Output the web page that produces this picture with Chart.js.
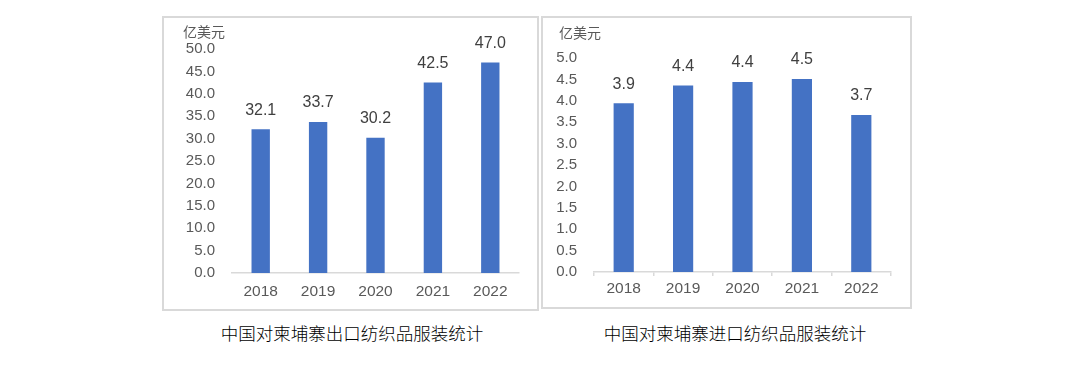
<!DOCTYPE html>
<html>
<head>
<meta charset="utf-8">
<script src="https://cdn.jsdelivr.net/npm/chart.js@4/dist/chart.umd.min.js"></script>
<style>
  html, body { margin: 0; padding: 0; background: #ffffff; }
  body { width: 1080px; height: 367px; position: relative; overflow: hidden;
         font-family: 'Liberation Sans', 'Noto Sans CJK SC', sans-serif; }
  .box { position: absolute; border: 2px solid #d9d9d9; box-sizing: border-box; }
  .wrap { position: absolute; }
  .title { position: absolute; font-family: 'Noto Sans CJK SC', sans-serif; font-size: 17.5px;
           font-weight: 300; color: #000; text-align: center; white-space: nowrap; line-height: 20px; }
</style>
</head>
<body>
<div class="box" style="left:162px; top:16px; width:377px; height:295px;"></div>
<div class="box" style="left:541px; top:16px; width:371px; height:293px;"></div>
<div class="wrap" style="left:165px; top:19px; width:370px; height:289px;"><canvas id="c1"></canvas></div>
<div class="wrap" style="left:544px; top:19px; width:365px; height:288px;"><canvas id="c2"></canvas></div>
<div class="title" style="left:202px; top:323px; width:300px;">中国对柬埔寨出口纺织品服装统计</div>
<div class="title" style="left:585px; top:323px; width:300px;">中国对柬埔寨进口纺织品服装统计</div>
<script>
const years = ['2018', '2019', '2020', '2021', '2022'];
const exportValues = [32.1, 33.7, 30.2, 42.5, 47.0];
const importValues = [3.94, 4.36, 4.44, 4.51, 3.67];
const unitLabel = '亿美元';
const exportTicks = { min: 0, max: 50, step: 5 };
const importTicks = { min: 0, max: 5, step: 0.5 };

const FONT = "'Liberation Sans', 'Noto Sans CJK SC', sans-serif";
const TXT = '#595959';
const BAR = '#4472C4';
const LINE = '#d9d9d9';

const valuePlugin = {
  id: 'valueLabels',
  afterDatasetsDraw(chart, args, opts) {
    const ctx = chart.ctx;
    const meta = chart.getDatasetMeta(0);
    const data = chart.data.datasets[0].data;
    ctx.save();
    ctx.font = '16px ' + FONT;
    ctx.fillStyle = '#404040';
    ctx.textAlign = 'center';
    ctx.textBaseline = 'middle';
    meta.data.forEach((bar, i) => {
      ctx.fillText(data[i].toFixed(1), bar.x, bar.y - 19);
    });
    ctx.font = '14px ' + FONT;
    ctx.fillStyle = TXT;
    ctx.textAlign = 'left';
    ctx.fillText(opts.unit, opts.ux, opts.uy);
    ctx.restore();
  }
};

function makeChart(id, values, t, cfg) {
  return new Chart(document.getElementById(id), {
    type: 'bar',
    data: {
      labels: years,
      datasets: [{
        data: values,
        backgroundColor: BAR,
        borderWidth: 0,
        barPercentage: cfg.barPct,
        categoryPercentage: 1
      }]
    },
    options: {
      responsive: true,
      maintainAspectRatio: false,
      animation: false,
      devicePixelRatio: 1,
      layout: { padding: { top: cfg.padTop, right: cfg.padRight, left: 0, bottom: 0 } },
      plugins: {
        legend: { display: false },
        tooltip: { enabled: false },
        valueLabels: { unit: unitLabel, ux: cfg.ux, uy: cfg.uy }
      },
      scales: {
        x: {
          afterFit(s) { s.height = cfg.xH; },
          grid: {
            display: cfg.xTicks,
            drawOnChartArea: false,
            drawTicks: cfg.xTicks,
            tickLength: 4,
            color: LINE,
            lineWidth: 1.5
          },
          border: { display: true, color: LINE, width: 1.5 },
          ticks: { color: TXT, font: { family: FONT, size: 15.5 }, padding: cfg.xPad, maxRotation: 0 }
        },
        y: {
          min: t.min,
          max: t.max,
          afterFit(s) { s.width = cfg.yW; },
          grid: { display: false, drawTicks: false },
          border: { display: false },
          ticks: {
            stepSize: t.step,
            color: TXT,
            font: { family: FONT, size: 15 },
            padding: 17,
            callback: v => Number(v).toFixed(1)
          }
        }
      }
    },
    plugins: [valuePlugin]
  });
}

makeChart('c1', exportValues, exportTicks, {
  barPct: 0.32, padTop: 30, padRight: 16, yW: 67, xH: 35, xTicks: false, xPad: 9, ux: 18, uy: 14
});
makeChart('c2', importValues, importTicks, {
  barPct: 0.34, padTop: 39, padRight: 18, yW: 50, xH: 35, xTicks: true, xPad: 3, ux: 15, uy: 15
});
</script>
</body>
</html>
